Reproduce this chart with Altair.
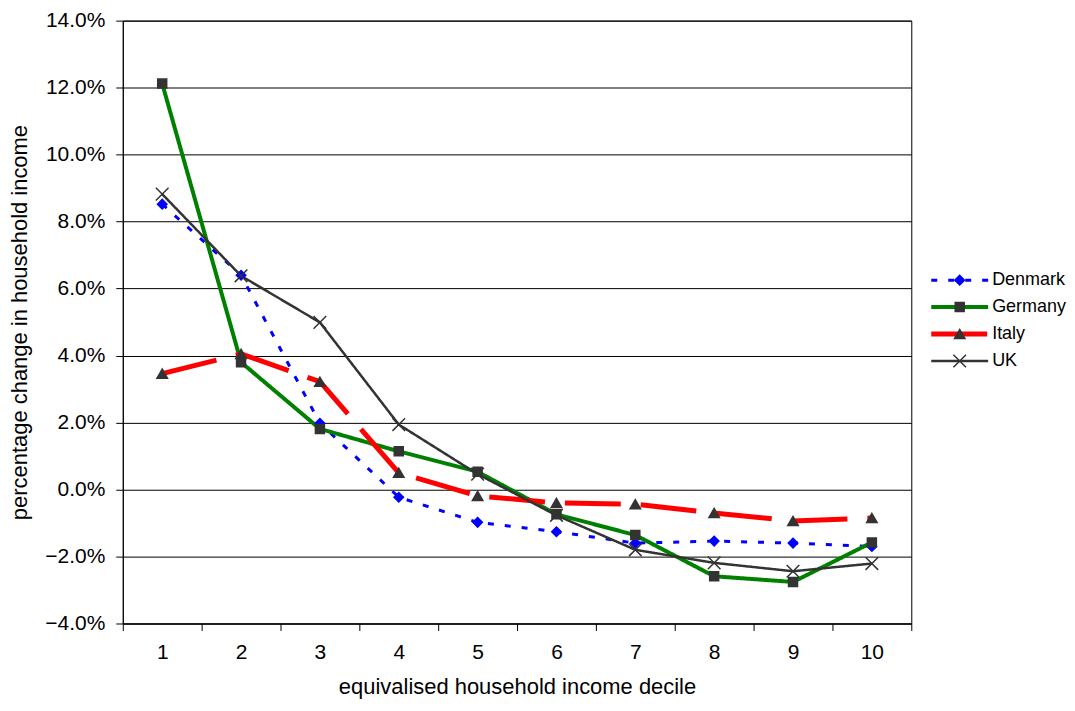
import altair as alt
import pandas as pd

deciles = [1, 2, 3, 4, 5, 6, 7, 8, 9, 10]
countries = ["Denmark", "Germany", "Italy", "UK"]
denmark = [8.52, 6.40, 1.98, -0.23, -0.98, -1.26, -1.60, -1.54, -1.60, -1.70]
germany = [12.12, 3.80, 1.81, 1.14, 0.53, -0.74, -1.36, -2.59, -2.76, -1.58]
italy = [3.46, 4.05, 3.22, 0.50, -0.19, -0.40, -0.44, -0.70, -0.94, -0.85]
uk = [8.82, 6.38, 4.99, 1.94, 0.46, -0.77, -1.80, -2.19, -2.44, -2.21]
y_ticks = [-0.04, -0.02, 0.0, 0.02, 0.04, 0.06, 0.08, 0.10, 0.12, 0.14]

series = {"Denmark": denmark, "Germany": germany, "Italy": italy, "UK": uk}
rows = []
for c in countries:
    for d, v in zip(deciles, series[c]):
        rows.append({"decile": d, "country": c, "value": v / 100.0})
df = pd.DataFrame(rows)
legend_df = pd.DataFrame({"country": countries})

FONT = "Liberation Sans"
X_CROSS = "M-1,-1L1,1M-1,1L1,-1"
styles = {
    "Denmark": dict(color="#0000FF", dash=[6, 11], width=3, shape="diamond", size=90,
                    fill="#0000FF", stroke="#0000FF", filled=True),
    "Germany": dict(color="#008000", dash=[1, 0], width=4, shape="square", size=81,
                    fill="#333333", stroke="#333333", filled=True),
    "Italy": dict(color="#FF0000", dash=[56, 20], width=5, shape="triangle-up", size=110,
                  fill="#333333", stroke="#333333", filled=True),
    "UK": dict(color="#333333", dash=[1, 0], width=2.5, shape=X_CROSS, size=160,
               fill="none", stroke="#333333", filled=False),
}

x_enc = alt.X(
    "decile:O",
    scale=alt.Scale(type="band", paddingInner=0, paddingOuter=0),
    axis=alt.Axis(
        title="equivalised household income decile",
        labelAngle=0, tickBand="extent", tickSize=7, tickColor="black",
        domainColor="black", labelFontSize=21, labelPadding=11,
        titleFontSize=22, titleFontWeight="normal", titlePadding=14,
        labelFont=FONT, titleFont=FONT, labelColor="black", titleColor="black",
        grid=False,
    ),
)
y_enc = alt.Y(
    "value:Q",
    scale=alt.Scale(domain=[-0.04, 0.14], nice=False, zero=False),
    axis=alt.Axis(
        title="percentage change in household income",
        values=y_ticks, format=".1%", tickSize=7, tickColor="black",
        domainColor="black", labelFontSize=21, labelPadding=11,
        titleFontSize=22, titleFontWeight="normal", titlePadding=13,
        labelFont=FONT, titleFont=FONT, labelColor="black", titleColor="black",
        grid=True, gridColor="black", gridWidth=1,
    ),
)

layers = []
for c in countries:
    s = styles[c]
    layers.append(
        alt.Chart(df).transform_filter(alt.datum.country == c)
        .mark_line(color=s["color"], strokeDash=s["dash"], strokeWidth=s["width"])
        .encode(x=x_enc, y=y_enc)
    )
for c in countries:
    s = styles[c]
    layers.append(
        alt.Chart(df).transform_filter(alt.datum.country == c)
        .mark_point(shape=s["shape"], size=s["size"], filled=s["filled"],
                    fill=s["fill"], stroke=s["stroke"], strokeWidth=1.5, opacity=1)
        .encode(x=x_enc, y=y_enc)
    )

main = alt.layer(*layers).properties(
    width=790, height=604,
    view=alt.ViewBackground(stroke="black", strokeWidth=1),
)

ly = alt.Y("country:N", scale=alt.Scale(type="point", domain=countries, padding=0,
                                        range=[260, 341]), axis=None)
leg_layers = []
for c in countries:
    s = styles[c]
    base = alt.Chart(legend_df).transform_filter(alt.datum.country == c)
    leg_layers.append(
        base.mark_rule(color=s["color"], strokeDash=s["dash"], strokeWidth=s["width"])
        .encode(x=alt.value(0), x2=alt.value(57), y=ly)
    )
    leg_layers.append(
        base.mark_point(shape=s["shape"], size=s["size"], filled=s["filled"],
                        fill=s["fill"], stroke=s["stroke"], strokeWidth=1.5, opacity=1)
        .encode(x=alt.value(28.5), y=ly)
    )
leg_layers.append(
    alt.Chart(legend_df).mark_text(align="left", baseline="middle", fontSize=18,
                                   font=FONT, color="black")
    .encode(x=alt.value(61), y=ly, text="country:N")
)
legend = alt.layer(*leg_layers).properties(
    width=57, height=604,
    view=alt.ViewBackground(stroke=None),
)

chart = alt.hconcat(main, legend, spacing=16).properties(
    padding={"left": 0, "top": 0, "right": 0, "bottom": 0},
    background="white",
)

chart.save("out.html", embed_options={"renderer": "svg", "actions": False})
